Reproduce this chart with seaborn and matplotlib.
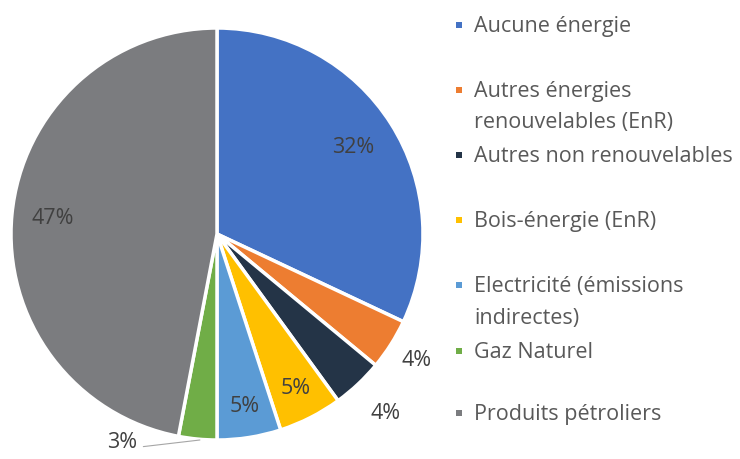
import matplotlib
matplotlib.use("Agg")
import matplotlib.pyplot as plt
import seaborn as sns
import numpy as np

#%% Data
categories = ['Aucune énergie', 'Autres énergies\nrenouvelables (EnR)', 'Autres non renouvelables',
              'Bois-énergie (EnR)', 'Electricité (émissions\nindirectes)', 'Gaz Naturel',
              'Produits pétroliers']
values = [32, 4, 4, 5, 5, 3, 47]
pct_labels = ['32%', '4%', '4%', '5%', '5%', '3%', '47%']

colors = sns.color_palette(['#4472C4', '#ED7D31', '#243447', '#FFC000', '#5B9BD5', '#70AD47', '#7B7C7F'])

#%% Style
sns.set_theme(style='white')
plt.rcParams['font.family'] = ['Open Sans', 'DejaVu Sans']

W, H = 740, 459
fig = plt.figure(figsize=(W / 100, H / 100), dpi=100)

# square axes holding the pie, radius 206 px around (217, 234)
cx, cy, r = 217, 234, 206
ax = fig.add_axes([(cx - r) / W, (H - cy - r) / H, 2 * r / W, 2 * r / H])
wedges, _ = ax.pie(values, colors=colors, startangle=90, counterclock=False, radius=1,
                   wedgeprops=dict(edgecolor='white', linewidth=2.5))
ax.set_xlim(-1, 1)
ax.set_ylim(-1, 1)
ax.axis('off')

# label distance from centre for each slice (inside / outside)
label_r = [0.785, 1.15, 1.195, 0.84, 0.85, None, 0.80]
for w, lab, lr in zip(wedges, pct_labels, label_r):
    mid = np.deg2rad((w.theta1 + w.theta2) / 2)
    if lr is None:
        # small slice: label outside with leader line
        ax.annotate(lab, xy=(-0.083, -1.0), xytext=(-0.46, -1.01),
                    ha='center', va='center', fontsize=15.5, color='#404040',
                    arrowprops=dict(arrowstyle='-', color='#A6A6A6', lw=0.8,
                                    relpos=(1, 0.25), shrinkA=2, shrinkB=0),
                    annotation_clip=False)
        continue
    ax.text(lr * np.cos(mid), lr * np.sin(mid), lab, ha='center', va='center',
            fontsize=15.5, color='#404040')

#%% Legend drawn by hand, Excel style (marker next to first line)
leg_base = [[32], [97, 128], [162], [227], [292, 324], [358], [420]]
for lab, col, bases in zip(categories, colors, leg_base):
    ym = bases[0] - 7
    fig.patches.append(plt.Rectangle((456 / W, (H - ym - 3) / H), 6 / W, 6 / H,
                                     transform=fig.transFigure, facecolor=col,
                                     edgecolor='none'))
    for line, b in zip(lab.split('\n'), bases):
        fig.text(474 / W, (H - b) / H, line, ha='left', va='baseline', fontsize=15.5,
                 color='#595959')

fig.savefig('out.png', dpi=100)
